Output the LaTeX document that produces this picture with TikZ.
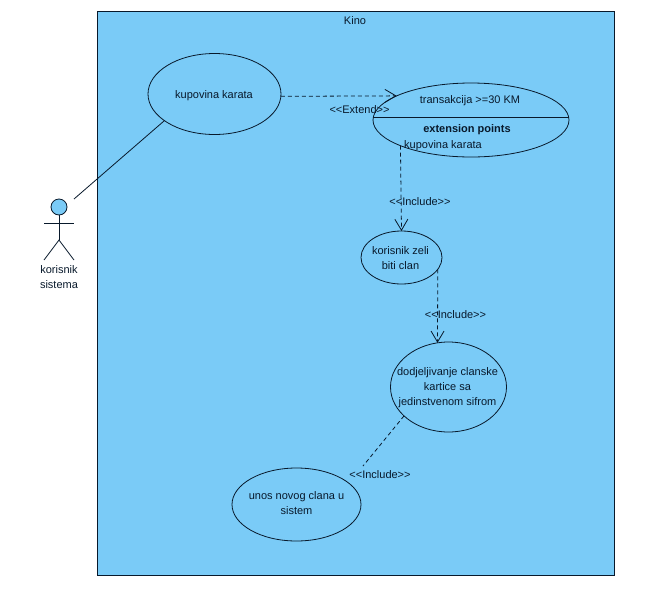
\documentclass[tikz,border=0pt]{standalone}
\usepackage{fontspec}
\setmainfont{Liberation Sans}
\usepackage{tikz}
\usetikzlibrary{arrows.meta,shapes.geometric}
\definecolor{kinoblue}{HTML}{7ACBF7}
\definecolor{kinoline}{HTML}{08192B}
\tikzset{
    usecasenode/.style = {
        ellipse,
        draw=kinoline,
        line width=0.8pt,
        inner sep=0pt,
        outer sep=0mm
    },
    labelnode/.style = {
        align=center,
        inner sep=0pt,
        outer sep=0mm,
        text=kinoline,
        font=\fontsize{11}{15}\selectfont
    },
    framenode/.style = {
        rectangle,
        draw=kinoline,
        fill=kinoblue,
        line width=0.8pt,
        minimum width=517pt,
        minimum height=564pt,
        outer sep=0mm
    },
    actorline/.style = {
        draw=kinoline,
        line width=0.8pt
    },
    dashline/.style = {
        actorline,
        dash pattern=on 4pt off 3pt
    },
    dasharrow/.style = {
        dashline,
        -{Straight Barb[length=11pt,width=13pt,line width=0.8pt]}
    }
}
\begin{document}
\begin{tikzpicture}[x=1pt,y=-1pt]
    \useasboundingbox (0,0) rectangle (651,603);
    \node [framenode] (kino) at (355.5,293) {};
    \node [labelnode] (kinotitle) at (355,20.5) {Kino};

    % use cases
    \node [usecasenode, minimum width=133pt, minimum height=81pt] (kupovina) at (214.5,94) {};
    \node [usecasenode, minimum width=196pt, minimum height=74pt] (transakcija) at (471,120) {};
    \node [usecasenode, minimum width=81pt, minimum height=53pt] (korisnik) at (401.5,257.5) {};
    \node [usecasenode, minimum width=116pt, minimum height=90pt] (dodjela) at (448.5,387) {};
    \node [usecasenode, minimum width=129pt, minimum height=73pt] (unos) at (296.5,504.5) {};

    % use case texts
    \node [labelnode] (kupovinatext) at (214,95.5) {kupovina karata};
    \node [labelnode] (korisniktext) at (400.5,258.5) {korisnik zeli\\biti clan};
    \node [labelnode] (dodjelatext) at (447.5,387.5) {dodjeljivanje clanske\\kartice sa\\jedinstvenom sifrom};
    \node [labelnode] (unostext) at (296.5,503) {unos novog clana u\\sistem};

    % compartments
    \draw [actorline] ([yshift=3pt]transakcija.west) -- ([yshift=3pt]transakcija.east);
    \node [labelnode] (transakcijatext) at (470,101) {transakcija >=30 KM};
    \node [labelnode, font=\fontsize{11}{15}\selectfont\bfseries] (extensiontext) at (467,130) {extension points};
    \node [labelnode] (pointtext) at (443,145.5) {kupovina karata};

    % actor
    \node [circle, draw=kinoline, fill=kinoblue, line width=0.8pt, minimum size=16pt, inner sep=0pt, outer sep=0mm] (head) at (59,207) {};
    \coordinate (hip) at (59,240);
    \coordinate (lefthand) at (44,223);
    \coordinate (righthand) at (74,223);
    \coordinate (leftfoot) at (44,260);
    \coordinate (rightfoot) at (74,260);
    \draw [actorline] (head.south) -- (hip);
    \draw [actorline] (lefthand) -- (righthand);
    \draw [actorline] (leftfoot) -- (hip) -- (rightfoot);
    \node [labelnode] (actorname) at (59,277.5) {korisnik\\sistema};

    % connectors
    \coordinate (actorend) at (74,199);
    \coordinate (unosend) at (363,466);
    \draw [actorline] (actorend) -- (kupovina.208.6);
    \draw [dasharrow] (kupovina.-2) -- (transakcija.162);
    \draw [dasharrow] (transakcija.200.1) -- (korisnik.north);
    \draw [dasharrow] (korisnik.-18) -- (dodjela.104.3);
    \draw [dashline] (dodjela.213.4) -- (unosend);

    % connector labels
    \node [labelnode] (extendlabel) at (359.5,110) {<{}<Extend>{}>};
    \node [labelnode] (includeone) at (420,202) {<{}<Include>{}>};
    \node [labelnode] (includetwo) at (455.5,315) {<{}<Include>{}>};
    \node [labelnode] (includethree) at (380,475) {<{}<Include>{}>};
\end{tikzpicture}
\end{document}
